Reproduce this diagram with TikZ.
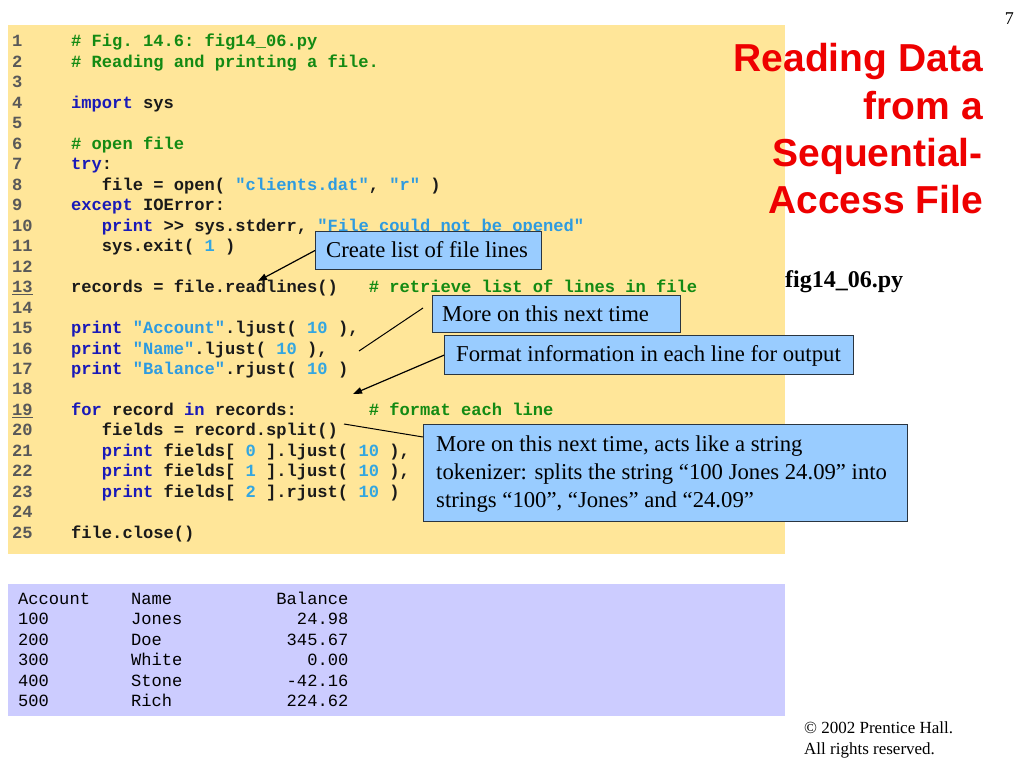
\documentclass[tikz,border=0pt]{standalone}
\usepackage{fontspec}
\setmainfont{Liberation Serif}
\setmonofont{Liberation Mono}
\newfontfamily\titlefont{Liberation Sans}
\usetikzlibrary{arrows.meta}
\definecolor{codebg}{HTML}{FFE699}
\definecolor{outbg}{HTML}{CCCCFF}
\definecolor{callfill}{HTML}{99CCFF}
\definecolor{callline}{HTML}{2A3540}
\definecolor{kwc}{HTML}{1A1AB8}
\definecolor{cmc}{HTML}{138A13}
\definecolor{stc}{HTML}{2E9BE0}
\definecolor{numc}{HTML}{33A6E0}
\definecolor{lnc}{HTML}{595959}
\definecolor{txc}{HTML}{1A1A1A}
\definecolor{titlered}{HTML}{EE0000}
\newcommand\Ckw[1]{\textcolor{kwc}{#1}}
\newcommand\Ccm[1]{\textcolor{cmc}{#1}}
\newcommand\Cst[1]{\textcolor{stc}{#1}}
\newcommand\Cnm[1]{\textcolor{numc}{#1}}
\tikzset{
  codeln/.style={anchor=base west, inner sep=0pt, text=txc, font=\ttfamily\bfseries\fontsize{17.1}{20.5}\selectfont},
  lnumtxt/.style={anchor=base west, inner sep=0pt, text=lnc, font=\ttfamily\bfseries\fontsize{17.1}{20.5}\selectfont},
  outtxt/.style={inner sep=0pt, text=black, font=\ttfamily\fontsize{17.1}{20.5}\selectfont},
  callbox/.style={draw=callline, fill=callfill, line width=1.3pt, inner sep=0pt, anchor=north west},
  calltxt/.style={anchor=base west, inner sep=0pt, text=black, font=\fontsize{22.7}{26}\selectfont},
  ptrarrow/.style={draw=black, line width=1.2pt, -{Triangle[length=9pt,width=6.5pt]}},
  leadline/.style={draw=black, line width=1pt},
  titleln/.style={anchor=base east, inner sep=0pt, text=titlered, font=\titlefont\bfseries\fontsize{39}{47}\selectfont},
  plaintxt/.style={anchor=base west, inner sep=0pt, text=black},
}
\begin{document}
\begin{tikzpicture}[x=1pt,y=-1pt]
\useasboundingbox (0,0) rectangle (1024,768);
\fill[white] (0,0) rectangle (1024,768);
% backgrounds
\fill[codebg] (8,25.5) rectangle (785,554);
\fill[outbg] (8,583.5) rectangle (785,716);
% line numbers
\foreach \i in {1,...,25}{
  \node[lnumtxt] (n\i) at (12,{47+20.47*(\i-1)}) {\ifnum\i=13 \underline{\i}\else\ifnum\i=19 \underline{\i}\else\i\fi\fi};
}
% code
\node[codeln] (l1) at (71,47) {\Ccm{\# Fig. 14.6: fig14\_06.py}};
\node[codeln] (l2) at (71,67.47) {\Ccm{\# Reading and printing a file.}};
\node[codeln] (l4) at (71,108.41) {\Ckw{import} sys};
\node[codeln] (l6) at (71,149.35) {\Ccm{\# open file}};
\node[codeln] (l7) at (71,169.82) {\Ckw{try}:};
\node[codeln] (l8) at (71,190.29) {\ \ \ file = open( \Cst{"clients.dat"}, \Cst{"r"} )};
\node[codeln] (l9) at (71,210.76) {\Ckw{except} IOError:};
\node[codeln] (l10) at (71,231.23) {\ \ \ \Ckw{print} >> sys.stderr, \Cst{"File could not be opened"}};
\node[codeln] (l11) at (71,251.7) {\ \ \ sys.exit( \Cnm{1} )};
\node[codeln] (l13) at (71,292.64) {records = file.readlines()\ \ \ \Ccm{\# retrieve list of lines in file}};
\node[codeln] (l15) at (71,333.58) {\Ckw{print} \Cst{"Account"}.ljust( \Cnm{10} ),};
\node[codeln] (l16) at (71,354.05) {\Ckw{print} \Cst{"Name"}.ljust( \Cnm{10} ),};
\node[codeln] (l17) at (71,374.52) {\Ckw{print} \Cst{"Balance"}.rjust( \Cnm{10} )};
\node[codeln] (l19) at (71,415.46) {\Ckw{for} record \Ckw{in} records:\ \ \ \ \ \ \ \Ccm{\# format each line}};
\node[codeln] (l20) at (71,435.93) {\ \ \ fields = record.split()};
\node[codeln] (l21) at (71,456.4) {\ \ \ \Ckw{print} fields[ \Cnm{0} ].ljust( \Cnm{10} ),};
\node[codeln] (l22) at (71,476.87) {\ \ \ \Ckw{print} fields[ \Cnm{1} ].ljust( \Cnm{10} ),};
\node[codeln] (l23) at (71,497.34) {\ \ \ \Ckw{print} fields[ \Cnm{2} ].rjust( \Cnm{10} )};
\node[codeln] (l25) at (71,538.28) {file.close()};
% output table
\foreach \r/\a/\b/\c in {0/Account/Name/Balance, 1/100/Jones/24.98, 2/200/Doe/345.67, 3/300/White/0.00, 4/400/Stone/-42.16, 5/500/Rich/224.62}{
  \node[outtxt, anchor=base west] (oa\r) at (18,{604.6+20.35*\r}) {\a};
  \node[outtxt, anchor=base west] (ob\r) at (131,{604.6+20.35*\r}) {\b};
  \node[outtxt, anchor=base east] (oc\r) at (348.5,{604.6+20.35*\r}) {\c};
}
% title
\node[titleln] (t1) at (983,71) {Reading Data};
\node[titleln] (t2) at (983,119) {from a};
\node[titleln] (t3) at (983,166.5) {Sequential-};
\node[titleln] (t4) at (983,213.5) {Access File};
\node[anchor=base east, inner sep=0pt, font=\fontsize{18}{20}\selectfont] (pg) at (1014,25) {7};
\node[plaintxt, font=\bfseries\fontsize{24}{28}\selectfont] (fn) at (785,287) {fig14\_06.py};
\node[plaintxt, font=\fontsize{17}{20}\selectfont] (cr1) at (804,733) {© 2002 Prentice Hall.};
\node[plaintxt, font=\fontsize{17}{20}\selectfont] (cr2) at (804,754) {All rights reserved.};
% callouts
\node[callbox, minimum width=225.7pt, minimum height=38.3pt] (c1) at (315,230.7) {};
\node[calltxt] (c1t) at (326,257) {Create list of file lines};
\node[callbox, minimum width=248.3pt, minimum height=37pt] (c2) at (431.7,295) {};
\node[calltxt] (c2t) at (442,321.5) {More on this next time};
\node[callbox, minimum width=408.7pt, minimum height=39pt] (c3) at (444,335) {};
\node[calltxt] (c3t) at (456,361) {Format information in each line for output};
\node[callbox, minimum width=484pt, minimum height=96.7pt] (c4) at (423,424) {};
\node[calltxt] (c4a) at (436,451.5) {More on this next time, acts like a string};
\node[calltxt] (c4b) at (436,479.3) {tokenizer: splits the string “100 Jones 24.09” into};
\node[calltxt] (c4c) at (436,507) {strings “100”, “Jones” and “24.09”};
% connectors
\coordinate (tip1) at (258,281);
\draw[ptrarrow] (c1.west) -- (tip1);
\coordinate (a2) at (423,308);
\coordinate (b2) at (359,351);
\draw[leadline] (a2) -- (b2);
\coordinate (tip3) at (353,394);
\draw[ptrarrow] (c3.west) -- (tip3);
\coordinate (a4) at (344,424);
\coordinate (b4) at (423,437);
\draw[leadline] (a4) -- (b4);
\end{tikzpicture}
\end{document}
